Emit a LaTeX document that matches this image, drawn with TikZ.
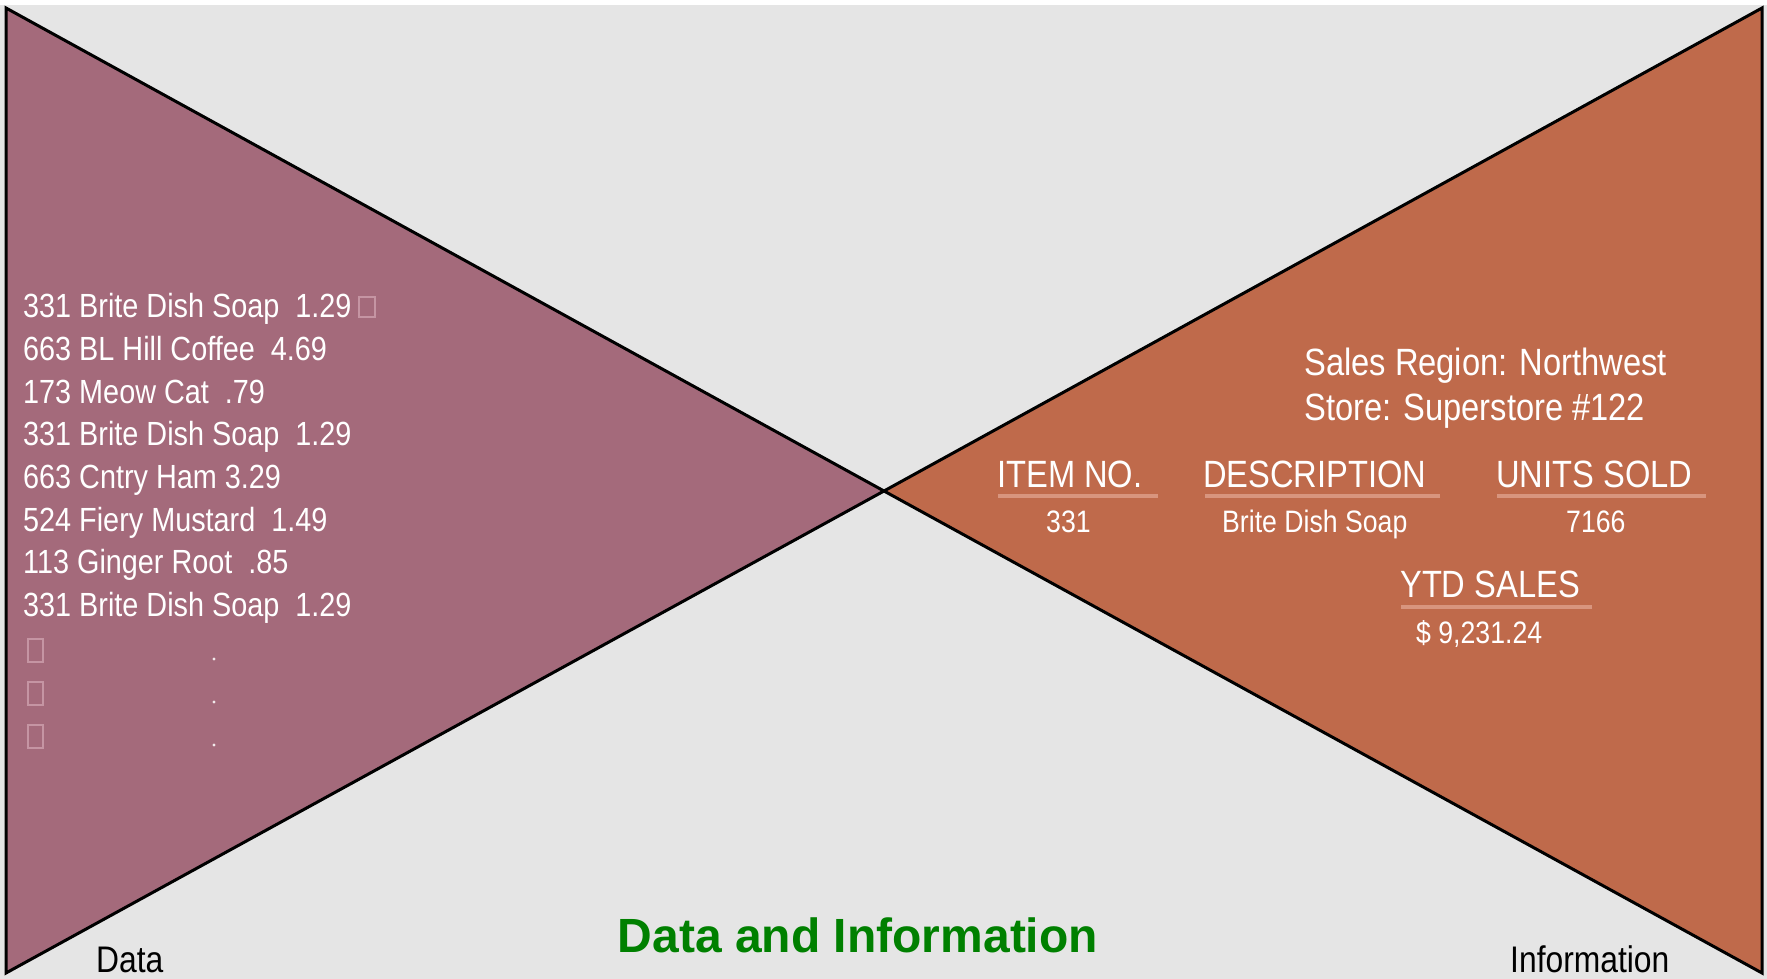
\documentclass[tikz,border=0pt]{standalone}
\usepackage{fontspec}
\setmainfont{Liberation Sans}
\newfontfamily\narrowfont[FakeStretch=0.86]{Liberation Sans}
\definecolor{bggray}{HTML}{E5E5E5}
\definecolor{datafill}{HTML}{A46A7B}
\definecolor{infofill}{HTML}{BF6A4B}
\definecolor{ulinecol}{HTML}{D8957E}
\definecolor{ghostcol}{HTML}{C595A3}
\definecolor{titlegreen}{HTML}{008000}
\tikzset{
  tri/.style={draw=black, line width=3pt, line join=miter},
  listtxt/.style={anchor=base west, inner sep=0pt, text=white, font=\narrowfont\fontsize{33.5}{40}\selectfont},
  headtxt/.style={anchor=base west, inner sep=0pt, text=white, font=\narrowfont\fontsize{38}{44}\selectfont},
  valtxt/.style={anchor=base west, inner sep=0pt, text=white, font=\narrowfont\fontsize{31}{36}\selectfont},
  regtxt/.style={anchor=base west, inner sep=0pt, text=white, font=\narrowfont\fontsize{38}{45}\selectfont},
  cornertxt/.style={anchor=base west, inner sep=0pt, text=black, font=\narrowfont\fontsize{37}{42}\selectfont},
  uline/.style={draw=ulinecol, line width=3.5pt},
  ghost/.style={draw=ghostcol, line width=1.5pt},
}
\begin{document}
\begin{tikzpicture}[x=1pt,y=-1pt]
\useasboundingbox (0,0) rectangle (1767,979);
\fill[white] (0,0) rectangle (1767,979);
\fill[bggray] (0,5) rectangle (1767,979);
% triangles
\coordinate (dtop) at (6,8);
\coordinate (dbot) at (6,973);
\coordinate (mid) at (884,491);
\coordinate (itop) at (1762,8);
\coordinate (ibot) at (1762,973);
\filldraw[tri, fill=datafill] (dtop) -- (mid) -- (dbot) -- cycle;
\filldraw[tri, fill=infofill] (itop) -- (mid) -- (ibot) -- cycle;
% data list
\node[listtxt] (l1) at (23,317) {331 Brite Dish Soap\ \ 1.29};
\node[listtxt] (l2) at (23,360) {663 BL Hill Coffee\ \ 4.69};
\node[listtxt] (l3) at (23,403) {173 Meow Cat\ \ .79};
\node[listtxt] (l4) at (23,445) {331 Brite Dish Soap\ \ 1.29};
\node[listtxt] (l5) at (23,488) {663 Cntry Ham 3.29};
\node[listtxt] (l6) at (23,531) {524 Fiery Mustard\ \ 1.49};
\node[listtxt] (l7) at (23,573) {113 Ginger Root\ \ .85};
\node[listtxt] (l8) at (23,616) {331 Brite Dish Soap\ \ 1.29};
% faint placeholder glyphs
\draw[ghost] (359,297) rectangle (375,317);
\draw[ghost] (28,639) rectangle (43,662);
\draw[ghost] (28,682) rectangle (43,705);
\draw[ghost] (28,725) rectangle (43,748);
\fill[white!85!datafill] (214,659) circle (1.6);
\fill[white!85!datafill] (214,702) circle (1.6);
\fill[white!85!datafill] (214,745) circle (1.6);
% information block
\node[regtxt] (region) at (1304,375) {Sales Region: Northwest};
\node[regtxt] (store) at (1304,420) {Store: Superstore \#122};
\node[headtxt] (itemh) at (997,487) {ITEM NO.};
\node[headtxt] (desch) at (1203,487) {DESCRIPTION};
\node[headtxt] (unitsh) at (1496,487) {UNITS SOLD};
\coordinate (u1a) at (998,496); \coordinate (u1b) at (1158,496);
\coordinate (u2a) at (1205,496); \coordinate (u2b) at (1440,496);
\coordinate (u3a) at (1497,496); \coordinate (u3b) at (1706,496);
\draw[uline] (u1a) -- (u1b);
\draw[uline] (u2a) -- (u2b);
\draw[uline] (u3a) -- (u3b);
\node[valtxt] (itemv) at (1046,532) {331};
\node[valtxt] (descv) at (1222,532) {Brite Dish Soap};
\node[valtxt] (unitsv) at (1566,532) {7166};
\node[headtxt] (ytdh) at (1400,597) {YTD SALES};
\coordinate (u4a) at (1401,607); \coordinate (u4b) at (1592,607);
\draw[uline] (u4a) -- (u4b);
\node[valtxt] (ytdv) at (1416,643) {\$ 9,231.24};
% labels
\node[cornertxt] (datalbl) at (96,972) {Data};
\node[cornertxt] (infolbl) at (1510,972) {Information};
\node[anchor=base, inner sep=0pt, text=titlegreen, font=\bfseries\fontsize{48}{56}\selectfont] (title) at (858,952) {Data and Information};
\end{tikzpicture}
\end{document}
